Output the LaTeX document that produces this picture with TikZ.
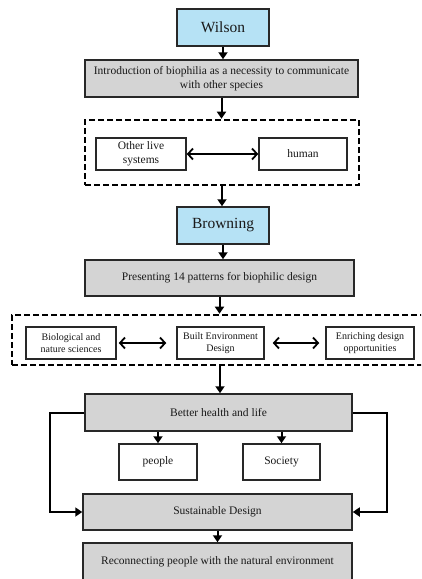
\documentclass[tikz,border=0pt]{standalone}
\usepackage{fontspec}
\setmainfont{Liberation Serif}
\usetikzlibrary{arrows.meta}
\definecolor{titleblue}{RGB}{182,226,245}
\definecolor{boxgray}{RGB}{212,212,212}
\definecolor{edge}{RGB}{40,40,40}
\definecolor{ink}{RGB}{25,25,25}
\begin{document}
\begin{tikzpicture}[x=1pt,y=-1pt,
  base/.style={draw=edge, line width=1.5pt, text=ink, inner sep=2pt, align=center},
  title/.style={base, fill=titleblue, font=\fontsize{15.5}{18}\selectfont},
  stage/.style={base, fill=boxgray, font=\fontsize{11.5}{14}\selectfont},
  item/.style={base, fill=white, font=\fontsize{11.5}{14}\selectfont},
  smallitem/.style={base, fill=white, font=\fontsize{10}{12.5}\selectfont},
  group/.style={draw=black, line width=2.6pt, dash pattern=on 6pt off 3pt, inner sep=0pt},
  arr/.style={draw=black, line width=2pt, -{Triangle[length=7pt,width=9pt]}},
  twoway/.style={draw=black, line width=1.8pt,
    {Straight Barb[length=5pt,width=11pt]}-{Straight Barb[length=5pt,width=11pt]}}]
\useasboundingbox (0,0) rectangle (421,579);
\clip (0,0) rectangle (421,579);

% first stage: Wilson
\node[title, minimum width=92pt, minimum height=37pt] (wilson) at (223,27.5) {Wilson};
\node[stage, minimum width=273pt, minimum height=37pt] (intro) at (221.5,78.5)
  {Introduction of biophilia as a necessity to communicate\\with other species};
\node[group, minimum width=274pt, minimum height=65pt] (grpA) at (222,152.5) {};
\node[item, minimum width=90pt, minimum height=32pt] (other) at (141,154) {Other live\\systems};
\node[item, minimum width=88pt, minimum height=32pt] (human) at (303,154) {human};

% second stage: Browning
\node[title, minimum width=92pt, minimum height=37pt] (browning) at (223,225.5) {Browning};
\node[stage, minimum width=269pt, minimum height=36pt] (patterns) at (219.5,278)
  {Presenting 14 patterns for biophilic design};
\node[group, minimum width=416pt, minimum height=50pt] (grpB) at (220,340) {};
\node[smallitem, minimum width=90pt, minimum height=32pt] (bio) at (71,343) {Biological and\\nature sciences};
\node[smallitem, minimum width=87pt, minimum height=32pt] (built) at (220.5,343) {Built Environment\\Design};
\node[smallitem, minimum width=88pt, minimum height=32pt] (enrich) at (370,343) {Enriching design\\opportunities};

% outcomes
\node[stage, minimum width=267pt, minimum height=37pt] (health) at (218.5,412.5) {Better health and life};
\node[item, minimum width=78pt, minimum height=36pt] (people) at (158,462) {people};
\node[item, minimum width=77pt, minimum height=36pt] (society) at (281.5,462) {Society};
\node[stage, minimum width=269pt, minimum height=36pt] (sust) at (217.5,512) {Sustainable Design};
\node[stage, minimum width=269pt, minimum height=38pt] (reconnect) at (217.5,562)
  {Reconnecting people with the natural environment};

% main flow
\draw[arr] (wilson.south) -- (wilson.south |- intro.north);
\draw[arr] (intro.south) -- (intro.south |- grpA.north);
\draw[arr] (grpA.south) -- (grpA.south |- browning.north);
\draw[arr] (browning.south) -- (browning.south |- patterns.north);
\draw[arr] (patterns.south) -- (patterns.south |- grpB.north);
\draw[arr] (grpB.south) -- (grpB.south |- health.north);
\draw[arr] (people.north |- health.south) -- (people.north);
\draw[arr] (society.north |- health.south) -- (society.north);
\draw[arr] (health.west) -- ++(-34,0) |- (sust.west);
\draw[arr] (health.east) -- ++(34,0) |- (sust.east);
\draw[arr] (sust.south) -- (sust.south |- reconnect.north);

% two-way links
\draw[twoway] (other.east) -- (human.west);
\draw[twoway] ([xshift=2pt]bio.east) -- ([xshift=-10pt]built.west);
\draw[twoway] ([xshift=8pt]built.east) -- ([xshift=-6pt]enrich.west);
\end{tikzpicture}
\end{document}
